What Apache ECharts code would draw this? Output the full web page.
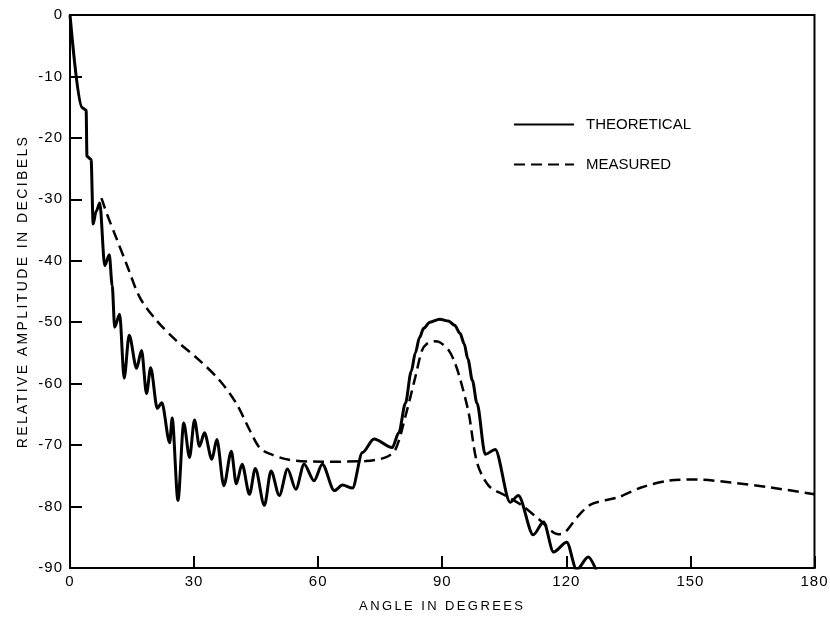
<!DOCTYPE html>
<html>
<head>
<meta charset="utf-8">
<script src="https://cdn.jsdelivr.net/npm/echarts@6/dist/echarts.min.js"></script>
<style>
html,body{margin:0;padding:0;background:#fff;}
#c{width:830px;height:618px;}
</style>
</head>
<body>
<div id="c"></div>
<script>
// Theoretical curve (angle in degrees, relative amplitude in dB)
var theoAngle = [0,2.8,3.2,3.9,4.1,5.1,5.6,6.3,7.2,8.4,9.5,10.2,10.8,12,13.1,14.3,16.1,17.3,18.5,19.5,21.1,22.2,24.1,24.7,26.1,27.5,28.9,30.1,31.3,32.5,34.3,35.5,37.2,39,40.2,41.6,43.4,44.8,47,48.6,50.6,52.6,54.6,56.6,59,61,63.9,65.9,68.3,70.7,73.5,77.9,79.5,81.1,82.5,83.5,84.5,85.5,87,89.4,91.5,93,94.3,95.3,96.2,97.3,98.4,100.4,102.8,106.4,108.4,112,114.5,116.9,120.1,122.5,125.3,127.3];
var theoDb    = [0,-15,-15.2,-15.5,-23,-23.5,-34,-32,-30.6,-40.8,-39,-44,-50.8,-48.7,-59.1,-52.1,-57.5,-54.6,-61.6,-57.4,-64,-63.1,-69.6,-65.6,-79,-66.4,-72,-65.9,-70.2,-68,-72.3,-69.1,-76.6,-71,-76.3,-73.1,-78,-73.8,-79.8,-74.2,-78.2,-73.9,-77.2,-73.1,-75.8,-73.1,-77.4,-76.5,-77,-71.2,-69,-70.4,-68,-63.2,-58,-55,-52.5,-51,-50,-49.5,-49.8,-50.5,-51.8,-53.5,-56,-59.5,-63.2,-71.5,-70.7,-79.3,-78.2,-84.6,-82.5,-87.4,-85.8,-90.3,-88.2,-90.5];
// Measured curve
var measAngle = [7.6,9,11.2,13.7,16.9,20.9,25.7,31.3,36.1,40.2,43.4,45.8,48.2,53,61,71.5,76.3,78.7,81.1,83.5,85.1,86.3,88,89.5,91.6,93,94.4,96.4,98.4,101.2,105.2,109.2,113.3,118.1,119.7,122.9,126.1,132.5,138.1,144.6,151.8,159.8,169.4,180];
var measDb    = [-29.8,-32.5,-36.3,-40.6,-46,-49.7,-53,-56.2,-59.4,-63.2,-67.5,-70.4,-71.4,-72.4,-72.7,-72.6,-72,-70.7,-65.3,-58.9,-54.6,-53.5,-53.1,-53.3,-54.6,-56.5,-59.4,-64.8,-72.8,-76.6,-78.2,-79.8,-82,-84.5,-84.2,-81.5,-79.6,-78.5,-76.9,-75.8,-75.6,-76.1,-76.9,-78];
var seriesNames = ['THEORETICAL','MEASURED'];
var xAxisName = 'ANGLE IN DEGREES';
var yAxisName = 'RELATIVE AMPLITUDE IN DECIBELS';

function pairs(a,b){ var r=[]; for(var i=0;i<a.length;i++) r.push([a[i],b[i]]); return r; }

// wider letter spacing for the typewriter-style axis titles and tick numbers
(function(){
  var proto = CanvasRenderingContext2D.prototype;
  var orig = proto.fillText;
  proto.fillText = function(s, x, y, m){
    var ls = '0px';
    var str = String(s);
    if (str === yAxisName || str === xAxisName) ls = '2.4px';
    else if (/^-?\d+$/.test(str)) ls = '1px';
    if ('letterSpacing' in this) {
      var f = this.font;
      this.letterSpacing = ls;
      this.font = f;
    }
    return (m === undefined) ? orig.call(this, s, x, y) : orig.call(this, s, x, y, m);
  };
})();

var FONT = '"Liberation Sans", Arial, sans-serif';
var chart = echarts.init(document.getElementById('c'), null, {renderer:'canvas'});
chart.setOption({
  animation:false,
  backgroundColor:'#fff',
  textStyle:{fontFamily:FONT,color:'#000'},
  grid:{left:70,right:12,top:15,bottom:45,show:true,borderColor:'#000',borderWidth:2,backgroundColor:'transparent'},
  legend:{
    orient:'vertical', left:508, top:112, itemWidth:60, itemHeight:14, itemGap:25,
    itemStyle:{opacity:0},
    textStyle:{fontFamily:FONT,fontSize:15,color:'#000',padding:[0,0,0,7]},
    data:seriesNames
  },
  xAxis:{
    type:'value', min:0, max:180, interval:30,
    name:xAxisName, nameLocation:'middle', nameGap:32,
    nameTextStyle:{fontFamily:FONT,fontSize:13,color:'#000'},
    axisLine:{show:true,onZero:false,lineStyle:{color:'#000',width:2}},
    axisTick:{show:true,inside:true,length:12,lineStyle:{color:'#000',width:2}},
    axisLabel:{fontFamily:FONT,fontSize:15,color:'#000',margin:6},
    splitLine:{show:false}
  },
  yAxis:{
    type:'value', min:-90, max:0, interval:10,
    name:yAxisName, nameLocation:'middle', nameGap:40, nameRotate:90,
    nameTextStyle:{fontFamily:FONT,fontSize:14,color:'#000'},
    axisLine:{show:true,onZero:false,lineStyle:{color:'#000',width:2}},
    axisTick:{show:true,inside:true,length:12,lineStyle:{color:'#000',width:2}},
    axisLabel:{fontFamily:FONT,fontSize:15,color:'#000',margin:7},
    splitLine:{show:false}
  },
  series:[
    {name:seriesNames[0],type:'line',data:pairs(theoAngle,theoDb),symbol:'none',smooth:0.3,smoothMonotone:'x',clip:true,
     lineStyle:{color:'#000',width:3},itemStyle:{color:'#000'}},
    {name:seriesNames[1],type:'line',data:pairs(measAngle,measDb),symbol:'none',smooth:0.3,clip:true,
     lineStyle:{color:'#000',width:2.5,type:[11,6]},itemStyle:{color:'#000'}}
  ]
});
</script>
</body>
</html>
